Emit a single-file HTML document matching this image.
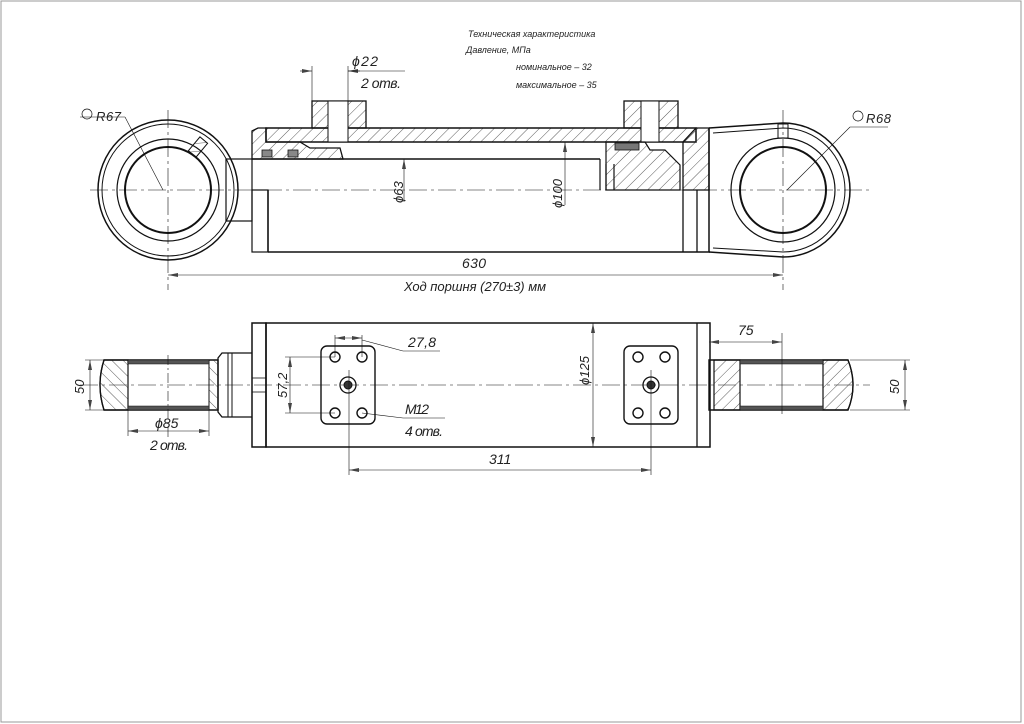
<!DOCTYPE html>
<html><head><meta charset="utf-8"><style>
html,body{margin:0;padding:0;background:#fff}
svg{display:block}
text{font-family:"Liberation Sans",sans-serif;font-style:italic;fill:#222}
</style></head><body>
<svg width="1024" height="724" viewBox="0 0 1024 724" xmlns="http://www.w3.org/2000/svg">
<defs>
<pattern id="h" patternUnits="userSpaceOnUse" width="8" height="8" patternTransform="rotate(45)">
<line x1="0" y1="0" x2="0" y2="8" stroke="#333" stroke-width="0.8"/></pattern>
<pattern id="h2" patternUnits="userSpaceOnUse" width="8" height="8" patternTransform="rotate(-45)">
<line x1="0" y1="0" x2="0" y2="8" stroke="#333" stroke-width="0.8"/></pattern>
<marker id="a" viewBox="0 0 10 4" refX="10" refY="2" markerWidth="10" markerHeight="4" orient="auto-start-reverse" markerUnits="userSpaceOnUse">
<path d="M0 0 L10 2 L0 4 Z" fill="#444"/></marker>
</defs>
<rect x="1" y="1" width="1020" height="721" fill="none" stroke="#999" stroke-width="1"/>

<text x="468" y="37" font-size="9">Техническая характеристика</text>
<text x="466" y="53" font-size="9">Давление, МПа</text>
<text x="516" y="70" font-size="9">номинальное – 32</text>
<text x="516" y="88" font-size="9">максимальное – 35</text>

<g stroke="#111" fill="none">
<line x1="90" y1="190" x2="870" y2="190" stroke-width="0.6" stroke-dasharray="18 4 3 4"/>
<line x1="168" y1="110" x2="168" y2="290" stroke-width="0.6" stroke-dasharray="18 4 3 4"/>
<line x1="783" y1="110" x2="783" y2="290" stroke-width="0.6" stroke-dasharray="18 4 3 4"/>

<circle cx="168" cy="190" r="70" stroke-width="1.5"/>
<circle cx="168" cy="190" r="66" stroke-width="1"/>
<circle cx="168" cy="190" r="51" stroke-width="1.2"/>
<circle cx="168" cy="190" r="43" stroke-width="2"/>
<rect x="193" y="138" width="10" height="18" transform="rotate(40 198 147)" fill="url(#h)" stroke-width="1"/>
<rect x="226" y="159" width="26" height="62" stroke-width="1.2"/>
<line x1="252" y1="159" x2="600" y2="159" stroke-width="1.5"/>
<rect x="252" y="190" width="16" height="62" stroke-width="1.2"/>
<line x1="268" y1="252" x2="710" y2="252" stroke-width="1.5"/>
<line x1="268" y1="190" x2="268" y2="252" stroke-width="1.5"/>
<rect x="266" y="128" width="430" height="14" fill="url(#h)" stroke-width="1.5"/>
<path d="M252 131 L258 128 L266 128 L266 142 L300 142 L310 148 L340 148 L343 159 L252 159 Z" fill="url(#h)" stroke-width="1.3"/>
<rect x="262" y="150" width="10" height="7" fill="#888" stroke-width="0.8"/>
<rect x="288" y="150" width="10" height="7" fill="#888" stroke-width="0.8"/>
<rect x="312" y="101" width="54" height="27" fill="url(#h)" stroke-width="1.3"/>
<rect x="328" y="101" width="20" height="41" fill="#fff" stroke-width="1"/>
<rect x="624" y="101" width="54" height="27" fill="url(#h)" stroke-width="1.3"/>
<rect x="641" y="101" width="18" height="41" fill="#fff" stroke-width="1"/>
<line x1="600" y1="159" x2="600" y2="190" stroke-width="1.2"/>
<path d="M606 142 L645 142 L650 150 L665 150 L680 165 L680 190 L606 190 Z" fill="url(#h)" stroke-width="1.2"/>
<rect x="615" y="143" width="24" height="7" fill="#777" stroke-width="0.8"/>
<line x1="606" y1="164" x2="606" y2="190" stroke-width="1.2"/>
<line x1="614" y1="164" x2="614" y2="190" stroke-width="1.2"/>
<line x1="683" y1="190" x2="683" y2="252" stroke-width="1.3"/>
<line x1="697" y1="190" x2="697" y2="252" stroke-width="1.3"/>
<path d="M683 142 L696 128 L709 128 L709 190 L683 190 Z" fill="url(#h)" stroke-width="1.3"/>
<line x1="709" y1="128" x2="709" y2="252" stroke-width="1.5"/>
<path d="M709 128 L783 123 A67 67 0 0 1 783 257 L709 252" stroke-width="1.5"/>
<path d="M713 133 L783 128 A62 62 0 0 1 783 252 L713 248" stroke-width="1"/>
<circle cx="783" cy="190" r="52" stroke-width="1.2"/>
<circle cx="783" cy="190" r="43" stroke-width="2"/>
<rect x="778" y="124" width="10" height="14" stroke-width="1"/>

<line x1="168" y1="275" x2="783" y2="275" stroke-width="0.6" marker-start="url(#a)" marker-end="url(#a)"/>
<line x1="404" y1="159" x2="404" y2="202" stroke-width="0.6" marker-start="url(#a)"/>
<line x1="565" y1="142" x2="565" y2="205" stroke-width="0.6" marker-start="url(#a)"/>
<line x1="312" y1="66" x2="312" y2="101" stroke-width="0.6"/>
<line x1="348" y1="66" x2="348" y2="101" stroke-width="0.6"/>
<line x1="300" y1="71" x2="312" y2="71" stroke-width="0.6" marker-end="url(#a)"/>
<line x1="360" y1="71" x2="348" y2="71" stroke-width="0.6" marker-end="url(#a)"/>
<line x1="348" y1="71" x2="405" y2="71" stroke-width="0.6"/>
<line x1="80" y1="117" x2="125" y2="117" stroke-width="0.6"/>
<line x1="125" y1="117" x2="163" y2="190" stroke-width="0.6"/>
<line x1="888" y1="127" x2="850" y2="127" stroke-width="0.6"/>
<line x1="850" y1="127" x2="787" y2="190" stroke-width="0.6"/>
<circle cx="87" cy="114" r="5" stroke-width="0.7"/>
<circle cx="858" cy="116" r="5" stroke-width="0.7"/>

<line x1="80" y1="385" x2="870" y2="385" stroke-width="0.6" stroke-dasharray="18 4 3 4"/>
<rect x="252" y="323" width="14" height="124" stroke-width="1.5"/>
<rect x="266" y="323" width="444" height="124" stroke-width="1.5"/>
<line x1="697" y1="323" x2="697" y2="447" stroke-width="1.3"/>
<rect x="252" y="378" width="14" height="14" stroke-width="0.8"/>
<path d="M252 353 L222 353 L218 358 L218 412 L222 417 L252 417" stroke-width="1.3"/>
<line x1="228" y1="353" x2="228" y2="417" stroke-width="1"/>
<line x1="232" y1="353" x2="232" y2="417" stroke-width="1"/>
<path d="M104 360 L218 360 L218 410 L104 410 Q96 385 104 360 Z" stroke-width="1.4"/>
<path d="M104 360 L128 360 L128 410 L104 410 Q96 385 104 360 Z" fill="url(#h2)" stroke-width="1.2"/>
<rect x="209" y="360" width="9" height="50" fill="url(#h2)" stroke-width="1"/>
<rect x="128" y="360" width="81" height="4" fill="#555" stroke-width="0.5"/>
<rect x="128" y="406" width="81" height="4" fill="#555" stroke-width="0.5"/>
<line x1="168" y1="355" x2="168" y2="440" stroke-width="0.6" stroke-dasharray="10 3 2 3"/>
<path d="M709 360 L848 360 Q858 385 848 410 L709 410 Z" stroke-width="1.4"/>
<rect x="714" y="360" width="26" height="50" fill="url(#h)" stroke-width="1.2"/>
<path d="M823 360 L848 360 Q858 385 848 410 L823 410 Z" fill="url(#h)" stroke-width="1.2"/>
<rect x="740" y="360" width="83" height="4" fill="#555" stroke-width="0.5"/>
<rect x="740" y="406" width="83" height="4" fill="#555" stroke-width="0.5"/>
<line x1="782" y1="333" x2="782" y2="414" stroke-width="0.6"/>
<rect x="321" y="346" width="54" height="78" rx="6" stroke-width="1.4"/>
<circle cx="335" cy="357" r="5" stroke-width="1.4"/><circle cx="362" cy="357" r="5" stroke-width="1.4"/>
<circle cx="335" cy="413" r="5" stroke-width="1.4"/><circle cx="362" cy="413" r="5" stroke-width="1.4"/>
<circle cx="348" cy="385" r="8" stroke-width="1.3"/><circle cx="348" cy="385" r="4" fill="#333" stroke-width="1"/>
<rect x="624" y="346" width="54" height="78" rx="6" stroke-width="1.4"/>
<circle cx="638" cy="357" r="5" stroke-width="1.4"/><circle cx="665" cy="357" r="5" stroke-width="1.4"/>
<circle cx="638" cy="413" r="5" stroke-width="1.4"/><circle cx="665" cy="413" r="5" stroke-width="1.4"/>
<circle cx="651" cy="385" r="8" stroke-width="1.3"/><circle cx="651" cy="385" r="4" fill="#333" stroke-width="1"/>
<line x1="349" y1="370" x2="349" y2="475" stroke-width="0.6"/>
<line x1="651" y1="370" x2="651" y2="475" stroke-width="0.6"/>
<line x1="349" y1="470" x2="651" y2="470" stroke-width="0.6" marker-start="url(#a)" marker-end="url(#a)"/>
<line x1="290" y1="357" x2="290" y2="413" stroke-width="0.6" marker-start="url(#a)" marker-end="url(#a)"/>
<line x1="285" y1="357" x2="335" y2="357" stroke-width="0.6"/>
<line x1="285" y1="413" x2="335" y2="413" stroke-width="0.6"/>
<line x1="335" y1="338" x2="362" y2="338" stroke-width="0.6" marker-start="url(#a)" marker-end="url(#a)"/>
<line x1="335" y1="335" x2="335" y2="357" stroke-width="0.6"/>
<line x1="362" y1="335" x2="362" y2="357" stroke-width="0.6"/>
<line x1="362" y1="340" x2="403" y2="351" stroke-width="0.6"/>
<line x1="403" y1="351" x2="440" y2="351" stroke-width="0.6"/>
<line x1="362" y1="413" x2="403" y2="418" stroke-width="0.6"/>
<line x1="403" y1="418" x2="445" y2="418" stroke-width="0.6"/>
<line x1="593" y1="323" x2="593" y2="447" stroke-width="0.6" marker-start="url(#a)" marker-end="url(#a)"/>
<line x1="709" y1="342" x2="782" y2="342" stroke-width="0.6" marker-start="url(#a)" marker-end="url(#a)"/>
<line x1="90" y1="360" x2="90" y2="410" stroke-width="0.6" marker-start="url(#a)" marker-end="url(#a)"/>
<line x1="85" y1="360" x2="104" y2="360" stroke-width="0.6"/>
<line x1="85" y1="410" x2="104" y2="410" stroke-width="0.6"/>
<line x1="905" y1="360" x2="905" y2="410" stroke-width="0.6" marker-start="url(#a)" marker-end="url(#a)"/>
<line x1="850" y1="360" x2="910" y2="360" stroke-width="0.6"/>
<line x1="850" y1="410" x2="910" y2="410" stroke-width="0.6"/>
<line x1="128" y1="410" x2="128" y2="436" stroke-width="0.6"/>
<line x1="209" y1="410" x2="209" y2="436" stroke-width="0.6"/>
<line x1="128" y1="431" x2="209" y2="431" stroke-width="0.6" marker-start="url(#a)" marker-end="url(#a)"/>
</g>
<g transform="scale(1)">
<text x="96" y="121" font-size="13" textLength="25">R67</text>
<text x="866" y="123" font-size="13" textLength="25">R68</text>
<text x="352" y="66" font-size="14" textLength="26">ϕ22</text>
<text x="361" y="88" font-size="14" textLength="40">2 отв.</text>
<text x="462" y="268" font-size="14" textLength="24">630</text>
<text x="404" y="291" font-size="13" textLength="142">Ход поршня (270±3) мм</text>
<text x="0" y="0" font-size="13" transform="translate(403,203) rotate(-90)">ϕ63</text>
<text x="0" y="0" font-size="13" transform="translate(562,208) rotate(-90)">ϕ100</text>
<text x="408" y="347" font-size="14" textLength="28">27,8</text>
<text x="0" y="0" font-size="13" transform="translate(287,398) rotate(-90)">57,2</text>
<text x="405" y="414" font-size="14" textLength="24">M12</text>
<text x="405" y="436" font-size="14" textLength="38">4 отв.</text>
<text x="0" y="0" font-size="13" transform="translate(589,385) rotate(-90)">ϕ125</text>
<text x="738" y="335" font-size="14">75</text>
<text x="489" y="464" font-size="14">311</text>
<text x="0" y="0" font-size="13" transform="translate(84,394) rotate(-90)">50</text>
<text x="0" y="0" font-size="13" transform="translate(899,394) rotate(-90)">50</text>
<text x="155" y="428" font-size="14">ϕ85</text>
<text x="150" y="450" font-size="14" textLength="38">2 отв.</text>
</g>
</svg>
</body></html>
